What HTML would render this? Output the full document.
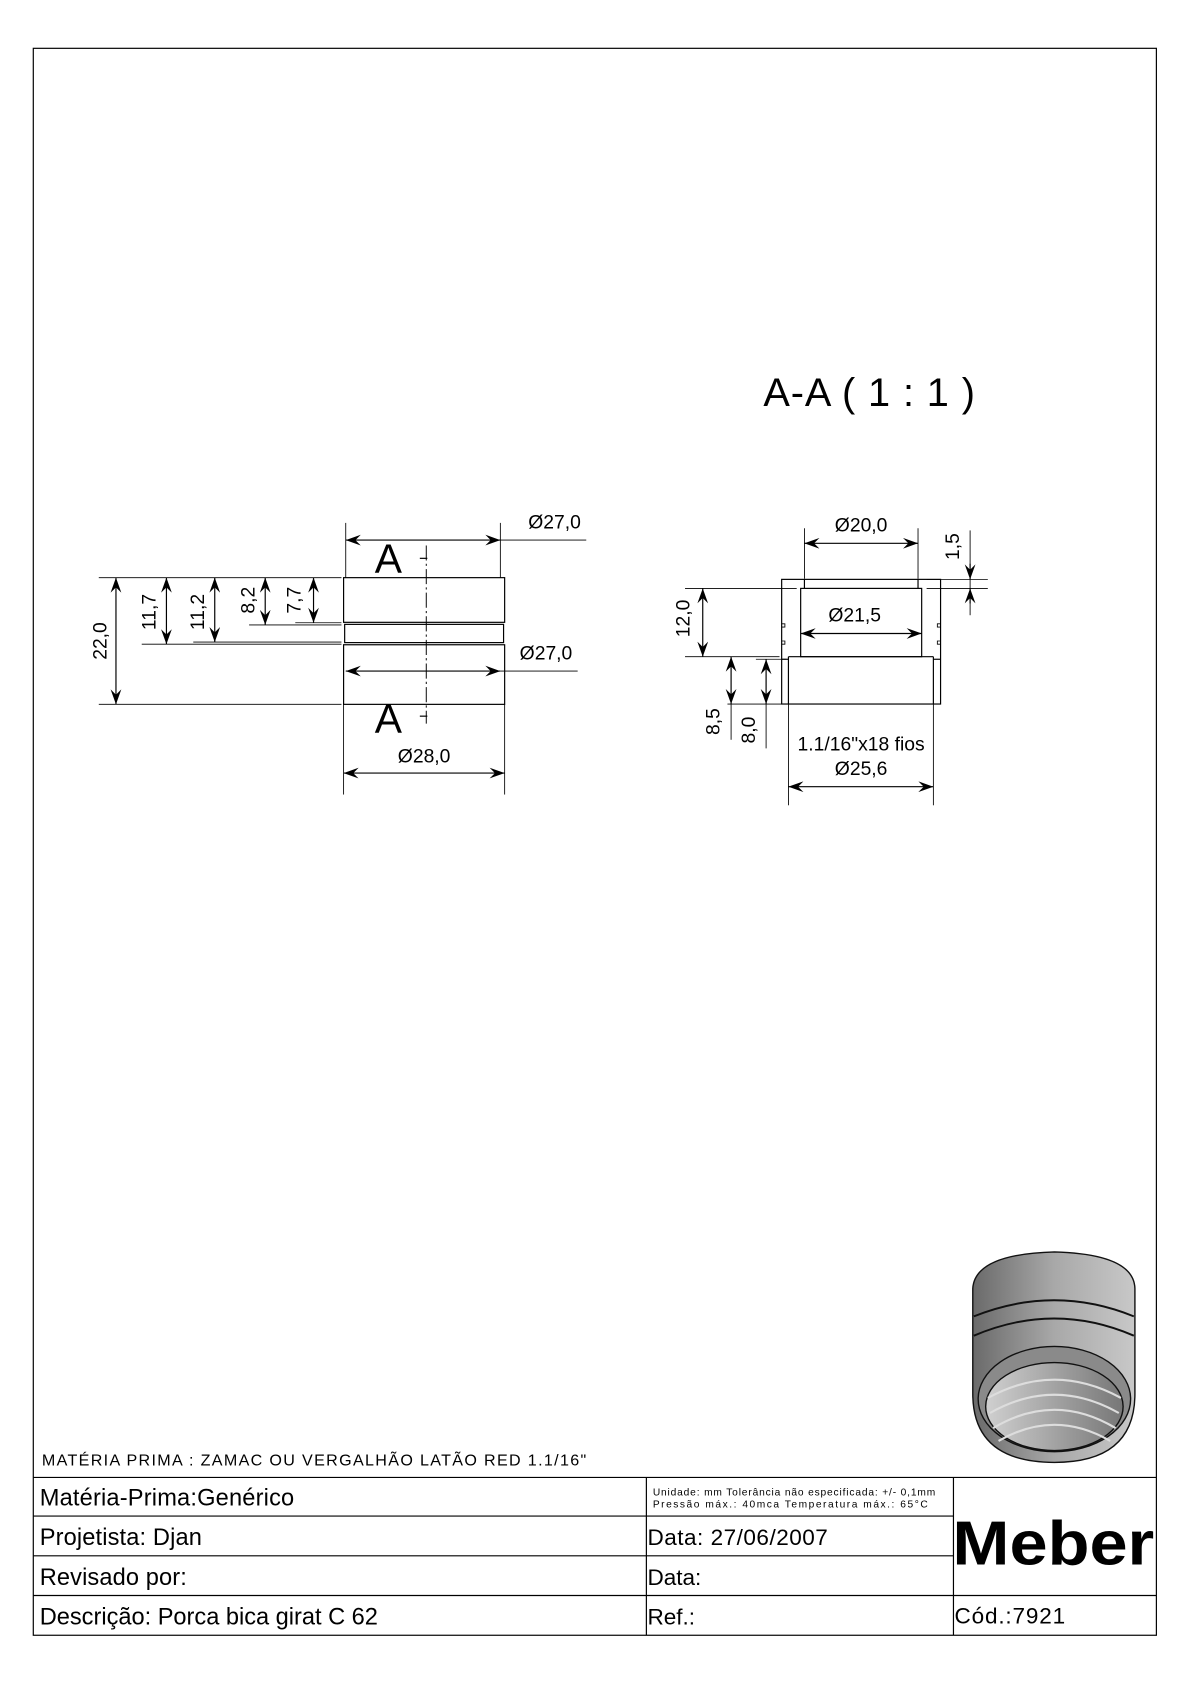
<!DOCTYPE html>
<html><head><meta charset="utf-8"><style>
html,body{margin:0;padding:0;background:#fff}
svg{display:block}
text{font-family:"Liberation Sans",sans-serif;fill:#000}
</style></head><body>
<svg width="1190" height="1684" viewBox="0 0 1108.3 1568.4" xmlns="http://www.w3.org/2000/svg">
<defs>
<marker id="a" viewBox="0 0 14 10" refX="14" refY="5" markerWidth="14" markerHeight="10" markerUnits="userSpaceOnUse" orient="auto-start-reverse">
<path d="M0,0 L14,5 L0,10 L5,5 Z" fill="#000"/>
</marker>
<linearGradient id="g" x1="0" x2="1">
<stop offset="0" stop-color="#6a6a6a"/><stop offset="0.5" stop-color="#a8a8a8"/><stop offset="1" stop-color="#c8c8c8"/>
</linearGradient>
<linearGradient id="g2" x1="0" x2="1">
<stop offset="0" stop-color="#d0d0d0"/><stop offset="0.6" stop-color="#9a9a9a"/><stop offset="1" stop-color="#777"/>
</linearGradient>
</defs>
<g fill="none" stroke="#000" stroke-width="1.1">
<rect x="31" y="45" width="1046" height="1478"/>
<line x1="31" y1="1376" x2="1077" y2="1376"/>
<line x1="31" y1="1412" x2="888" y2="1412"/>
<line x1="31" y1="1449" x2="888" y2="1449" />
<line x1="31" y1="1486" x2="1077" y2="1486"/>
<line x1="602" y1="1376" x2="602" y2="1523"/>
<line x1="888" y1="1376" x2="888" y2="1523"/>
</g>
<text x="39" y="1365" font-size="15" textLength="507">MATÉRIA PRIMA : ZAMAC OU VERGALHÃO LATÃO RED 1.1/16"</text>
<text x="37" y="1402" font-size="22" textLength="237">Matéria-Prima:Genérico</text>
<text x="37" y="1439" font-size="22" textLength="151">Projetista: Djan</text>
<text x="37" y="1476" font-size="22" textLength="137">Revisado por:</text>
<text x="37" y="1513" font-size="22" textLength="315">Descrição: Porca bica girat C 62</text>
<text x="608" y="1393" font-size="9.5" textLength="263">Unidade: mm Tolerância não especificada: +/- 0,1mm</text>
<text x="608" y="1404" font-size="9.5" textLength="256">Pressão máx.: 40mca        Temperatura máx.: 65°C</text>
<text x="603" y="1439" font-size="21" textLength="168">Data: 27/06/2007</text>
<text x="603" y="1476" font-size="21">Data:</text>
<text x="603" y="1513" font-size="21">Ref.:</text>
<text x="889" y="1512" font-size="21" textLength="103">Cód.:7921</text>
<text x="887" y="1457" font-size="58" font-weight="bold" textLength="188" lengthAdjust="spacingAndGlyphs">Meber</text>

<text x="711" y="378" font-size="37" textLength="197">A-A ( 1 : 1 )</text>

<g fill="none" stroke="#000" stroke-width="1.1">
<rect x="320" y="538" width="150" height="41.6"/>
<rect x="321" y="581.5" width="148" height="17"/>
<rect x="320" y="600.5" width="150" height="55.5"/>
<line x1="397" y1="508" x2="397" y2="674" stroke-dasharray="14,3,2,3" stroke-width="0.9"/>
<line x1="391" y1="520" x2="398" y2="520"/>
<line x1="391" y1="667" x2="398" y2="667"/>
<g stroke-width="0.8">
<line x1="322" y1="487" x2="322" y2="538"/>
<line x1="466" y1="487" x2="466" y2="538"/>
<line x1="466" y1="503" x2="546" y2="503"/>
<line x1="466" y1="625" x2="538" y2="625"/>
<line x1="320" y1="656" x2="320" y2="740"/>
<line x1="470" y1="656" x2="470" y2="740"/>
<line x1="92" y1="538" x2="318" y2="538"/>
<line x1="92" y1="656" x2="318" y2="656"/>
<line x1="132" y1="600" x2="318" y2="600"/>
<line x1="180" y1="598" x2="318" y2="598"/>
<line x1="232" y1="582" x2="318" y2="582"/>
<line x1="275" y1="580" x2="318" y2="580"/>
</g>
<g marker-start="url(#a)" marker-end="url(#a)">
<line x1="322" y1="503" x2="466" y2="503"/>
<line x1="322" y1="625" x2="466" y2="625"/>
<line x1="320" y1="720" x2="470" y2="720"/>
<line x1="108" y1="538" x2="108" y2="656"/>
<line x1="155" y1="538" x2="155" y2="600"/>
<line x1="200" y1="538" x2="200" y2="598"/>
<line x1="247" y1="538" x2="247" y2="582"/>
<line x1="292" y1="538" x2="292" y2="580"/>
</g>
</g>
<text x="349" y="533" font-size="38">A</text>
<text x="349" y="682" font-size="38">A</text>
<text x="492" y="492" font-size="18">Ø27,0</text>
<text x="484" y="614" font-size="18">Ø27,0</text>
<text x="395" y="710" font-size="18" text-anchor="middle">Ø28,0</text>
<text transform="translate(99,597) rotate(-90)" font-size="18" text-anchor="middle">22,0</text>
<text transform="translate(145,570) rotate(-90)" font-size="18" text-anchor="middle">11,7</text>
<text transform="translate(190,570) rotate(-90)" font-size="18" text-anchor="middle">11,2</text>
<text transform="translate(237,559) rotate(-90)" font-size="18" text-anchor="middle">8,2</text>
<text transform="translate(280,559) rotate(-90)" font-size="18" text-anchor="middle">7,7</text>

<g fill="none" stroke="#000" stroke-width="1.1">
<rect x="728" y="539.6" width="148" height="116.1"/>
<line x1="749.2" y1="539.6" x2="749.2" y2="548"/>
<line x1="855" y1="539.6" x2="855" y2="548"/>
<rect x="745.7" y="548" width="112.7" height="63.6"/>
<line x1="734.3" y1="611.6" x2="869.3" y2="611.6"/>
<line x1="734.3" y1="611.6" x2="734.3" y2="655.7"/>
<line x1="869.3" y1="611.6" x2="869.3" y2="655.7"/>
<line x1="728" y1="614" x2="734.3" y2="614"/>
<line x1="869.3" y1="614" x2="876" y2="614"/>
<path d="M728,581 h3 v3 h-3 M728,597 h3 v3 h-3 M876,581 h-3 v3 h3 M876,597 h-3 v3 h3" stroke-width="0.8"/>
<g stroke-width="0.8">
<line x1="749.2" y1="492" x2="749.2" y2="539"/>
<line x1="855" y1="492" x2="855" y2="539"/>
<line x1="863" y1="539.6" x2="920" y2="539.6"/>
<line x1="863" y1="548" x2="920" y2="548"/>
<line x1="903.5" y1="494" x2="903.5" y2="573"/>
<line x1="638" y1="548" x2="742" y2="548"/>
<line x1="638" y1="611.6" x2="726" y2="611.6"/>
<line x1="704" y1="614" x2="732" y2="614"/>
<line x1="677.5" y1="655.7" x2="728" y2="655.7"/>
<line x1="680.9" y1="655.7" x2="680.9" y2="689"/>
<line x1="713.5" y1="655.7" x2="713.5" y2="697"/>
<line x1="734.3" y1="655.7" x2="734.3" y2="750"/>
<line x1="869.3" y1="655.7" x2="869.3" y2="750"/>
</g>
<g marker-start="url(#a)" marker-end="url(#a)">
<line x1="749.2" y1="506" x2="855" y2="506"/>
<line x1="745.7" y1="590" x2="858.4" y2="590"/>
<line x1="654.5" y1="548" x2="654.5" y2="611.6"/>
<line x1="680.9" y1="611.6" x2="680.9" y2="655.7"/>
<line x1="713.5" y1="614" x2="713.5" y2="655.7"/>
<line x1="734.3" y1="732.7" x2="869.3" y2="732.7"/>
</g>
<line x1="903.5" y1="525" x2="903.5" y2="539.6" marker-end="url(#a)"/>
<line x1="903.5" y1="562" x2="903.5" y2="548" marker-end="url(#a)"/>
</g>
<text x="802" y="495" font-size="18" text-anchor="middle">Ø20,0</text>
<text x="796" y="579" font-size="18" text-anchor="middle">Ø21,5</text>
<text transform="translate(893,509) rotate(-90)" font-size="18" text-anchor="middle">1,5</text>
<text transform="translate(642,576) rotate(-90)" font-size="18" text-anchor="middle">12,0</text>
<text transform="translate(670,672) rotate(-90)" font-size="18" text-anchor="middle">8,5</text>
<text transform="translate(703,680) rotate(-90)" font-size="18" text-anchor="middle">8,0</text>
<text x="802" y="699" font-size="18" text-anchor="middle">1.1/16"x18 fios</text>
<text x="802" y="722" font-size="18" text-anchor="middle">Ø25,6</text>

<g stroke="#111" stroke-width="1.3">
<path d="M906,1200 Q908,1168 982,1166 Q1056,1168 1057,1200 L1057,1298 Q1057,1362 982,1362 Q906,1362 906,1298 Z" fill="url(#g)"/>
<path d="M907,1226 Q982,1196 1056,1226 M907,1244 Q982,1212 1056,1244" fill="none" stroke-width="1.8"/>
<ellipse cx="982" cy="1303" rx="71" ry="49" fill="#8a8a8a"/>
<ellipse cx="982" cy="1310" rx="64" ry="41" fill="url(#g2)"/>
<path d="M920,1302 Q982,1268 1044,1302 M922,1316 Q982,1282 1042,1316 M925,1330 Q982,1296 1039,1330 M930,1342 Q982,1312 1034,1342" fill="none" stroke="#ddd" stroke-width="2"/>
</g>
</svg>
</body></html>
